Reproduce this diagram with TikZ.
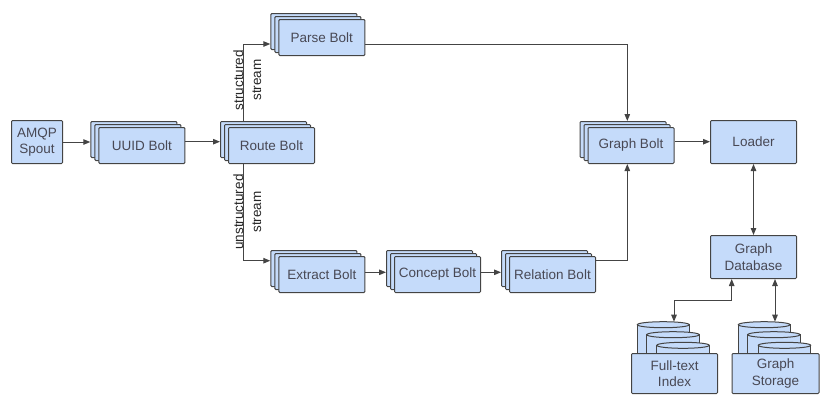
\documentclass[tikz,border=0pt]{standalone}
\usepackage{fontspec}
\setmainfont{Liberation Sans}
\usetikzlibrary{arrows.meta,calc}
\definecolor{boxfill}{RGB}{197,219,250}
\definecolor{edgec}{RGB}{68,68,68}
\definecolor{txt}{RGB}{72,72,84}
\tikzset{
 blk/.style={draw=edgec, fill=boxfill, line width=1pt, rounded corners=1pt, minimum width=86pt, minimum height=36pt, inner sep=0pt, text=txt, font=\fontsize{13.5}{16.5}\selectfont, align=center, anchor=north west},
 conn/.style={draw=edgec, line width=1pt, -{Triangle[length=7pt,width=5.5pt]}},
 bic/.style={draw=edgec, line width=1pt, {Triangle[length=7pt,width=5.5pt]}-{Triangle[length=7pt,width=5.5pt]}},
 lbl/.style={font=\fontsize{13.5}{18}\selectfont, align=center, rotate=90, inner sep=0pt, text=black!85},
 cylb/.style={draw=edgec, fill=boxfill, line width=1pt},
}
\newcommand\mystack[4]{%
 \node[blk] (#1c) at ({#2-8},{#3-6}) {};
 \node[blk] (#1b) at ({#2-4},{#3-3}) {};
 \node[blk] (#1) at (#2,#3) {#4};}
\newcommand\mycyl[3]{%
 \filldraw[cylb] (#1,{#3+3}) rectangle (#2,353);
 \filldraw[cylb] ({(#1+#2)/2},{#3+3}) ellipse [x radius={(#2-#1)/2}, y radius=3];}
\begin{document}
\begin{tikzpicture}[x=1pt,y=-1pt]
\useasboundingbox (0,0) rectangle (829,405);
\node[blk, minimum width=51pt, minimum height=43pt] (amqp) at (11,120) {AMQP\\Spout};
\mystack{uuid}{98.3}{127}{UUID Bolt}
\mystack{route}{228}{127}{Route Bolt}
\mystack{parse}{278.3}{19}{Parse Bolt}
\mystack{graph}{587.5}{127}{Graph Bolt}
\mystack{extract}{278.3}{256}{Extract Bolt}
\mystack{concept}{394}{256}{Concept Bolt}
\mystack{relation}{509}{256}{Relation Bolt}
\node[blk, minimum height=43pt] (loader) at (710,120) {Loader};
\node[blk, minimum height=43pt] (db) at (710,235) {Graph\\Database};
\mycyl{637.3}{689.3}{321.7}
\mycyl{646.7}{699.3}{331.7}
\mycyl{656.7}{709.3}{342.3}
\mycyl{738.3}{790}{321.7}
\mycyl{747.7}{800}{331.7}
\mycyl{758.3}{810.7}{342.3}
\node[blk, minimum height=40pt] (ft) at (631,353) {Full-text\\Index};
\node[blk, minimum width=87pt, minimum height=40pt] (gs) at (731.5,353) {Graph\\Storage};
\coordinate (ftt) at (674,321.7);
\coordinate (gst) at (775,321.7);
\coordinate (r1) at (0,141.7);
\coordinate (bx) at (243.3,0);
\coordinate (p1) at (0,44);
\coordinate (e1) at (0,260.7);
\coordinate (gx) at (627.3,0);
\coordinate (r3) at (0,272.3);
\coordinate (dbx) at (731.7,0);
\coordinate (fty) at (0,300.7);
\draw[conn] (amqp.east) -- (amqp.east -| uuidc.west);
\draw[conn] (uuid.east |- r1) -- (routec.west |- r1);
\draw[conn] (bx |- routec.north) |- (parsec.west |- p1);
\draw[conn] (bx |- route.south) |- (extractc.west |- e1);
\draw[conn] (parse.east |- p1) -| (gx |- graphc.north);
\draw[conn] (relation.east |- e1) -| (gx |- graph.south);
\draw[conn] (extract.east |- r3) -- (conceptc.west |- r3);
\draw[conn] (concept.east |- r3) -- (relationc.west |- r3);
\draw[conn] (graph.east |- r1) -- (loader.west |- r1);
\draw[bic] (loader.south) -- (db.north);
\draw[bic] (dbx |- db.south) -- (dbx |- fty) -| (ftt);
\draw[bic] (db.south -| gst) -- (gst);
\node[lbl] (sl) at (247.3,80) {structured\\stream};
\node[lbl] (ul) at (247.3,212) {unstructured\\stream};
\end{tikzpicture}
\end{document}
